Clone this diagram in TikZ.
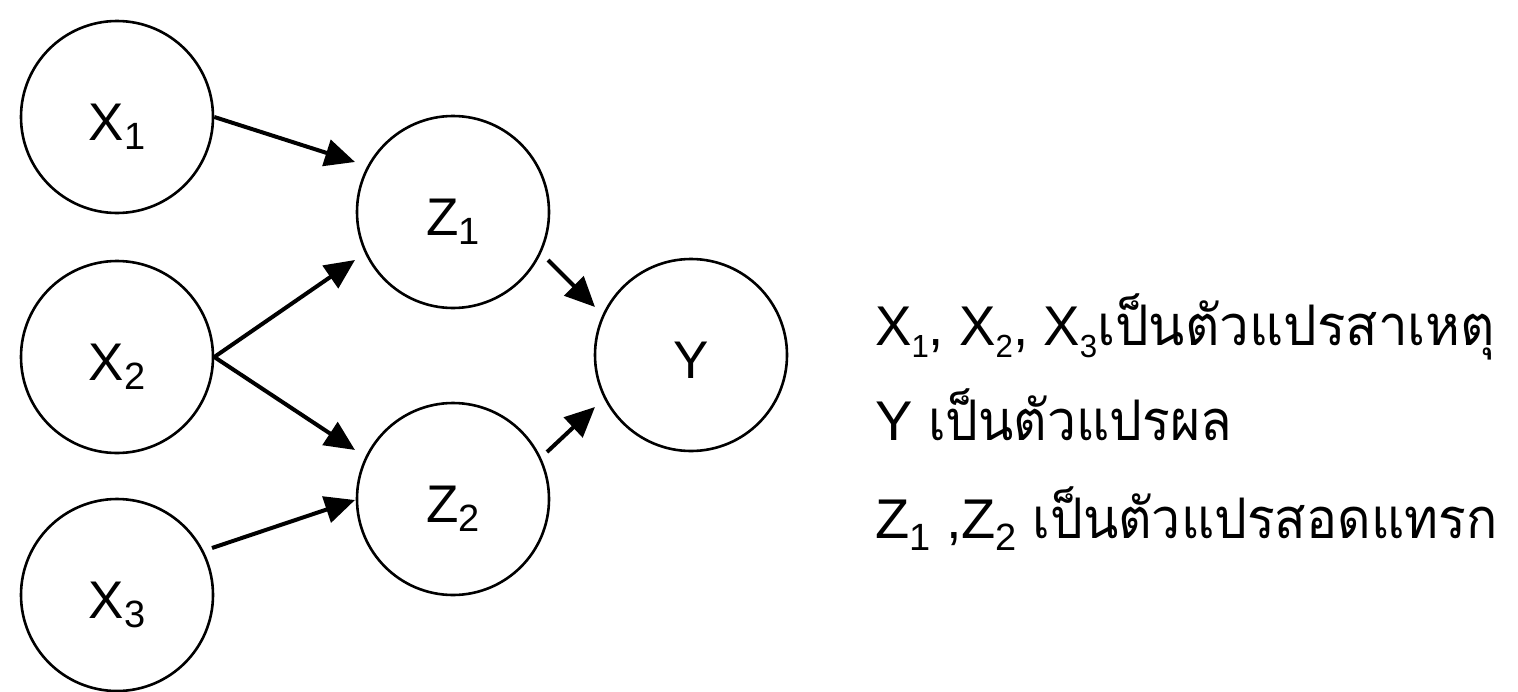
\documentclass[tikz,border=0pt]{standalone}
\usepackage{fontspec}
\usepackage{graphicx}
\setmainfont{Liberation Sans}
\newfontfamily\thai[Script=Thai]{Loma}
\usetikzlibrary{arrows.meta,calc}
\newcommand\hfit[2]{\setbox0\hbox{#2}\pgfmathsetmacro\myhfr{#1/\the\wd0}\scalebox{\myhfr}[1]{\box0}}
% subscript: size, lowering, text
\newcommand\mysub[3]{\raisebox{-#2}{\fontsize{#1}{#1}\selectfont #3}}
\newcommand\nsub[1]{\mysub{38pt}{9pt}{#1}}
\newcommand\ssub[1]{\mysub{32pt}{12pt}{#1}}
\newcommand\lsub[1]{\mysub{38pt}{12pt}{#1}}
\tikzset{
  var/.style={circle,draw,line width=2.6pt,minimum size=192pt,inner sep=0pt,
    text height=46pt,text depth=0pt,font=\fontsize{53}{56}\selectfont},
  arr/.style={line width=4pt,-{Triangle[length=30pt,width=27pt]}},
  note/.style={anchor=base west,inner sep=0pt,font=\fontsize{56}{60}\selectfont}
}
\begin{document}
\begin{tikzpicture}[x=1pt,y=-1pt]
\useasboundingbox (0,0) rectangle (1518,691);
\node[var] (X1) at (117,117) {X\nsub{1}};
\node[var] (X2) at (117,357) {X\nsub{2}};
\node[var] (X3) at (117,595) {X\nsub{3}};
\node[var] (Z1) at (453,212) {Z\nsub{1}};
\node[var] (Z2) at (453,499) {Z\nsub{2}};
\node[var] (Y)  at (691,355) {Y};
\draw[arr] (X1.east) -- ($(Z1)+(-98,-50)$);
\draw[arr] (X2.east) -- ($(Z1)+(-98,48)$);
\draw[arr] (X2.east) -- ($(Z2)+(-98,-49)$);
\draw[arr] ($(X3)+(95,-47)$) -- ($(Z2)+(-98,1)$);
\draw[arr] ($(Z1)+(95,48)$) -- ($(Y)+(-96,-48)$);
\draw[arr] ($(Z2)+(94,-47)$) -- ($(Y)+(-96,52)$);
\node[note] (L1) at (875,345) {\hfit{222}{X\ssub{1}, X\ssub{2}, X\ssub{3}}\hfit{398}{\thai เป็นตัวแปรสาเหตุ}};
\node[note] (L2) at (875,440) {Y \hfit{304}{\thai เป็นตัวแปรผล}};
\node[note] (L3) at (875,538) {Z\lsub{1} ,Z\lsub{2} \hfit{465}{\thai เป็นตัวแปรสอดแทรก}};
\end{tikzpicture}
\end{document}
